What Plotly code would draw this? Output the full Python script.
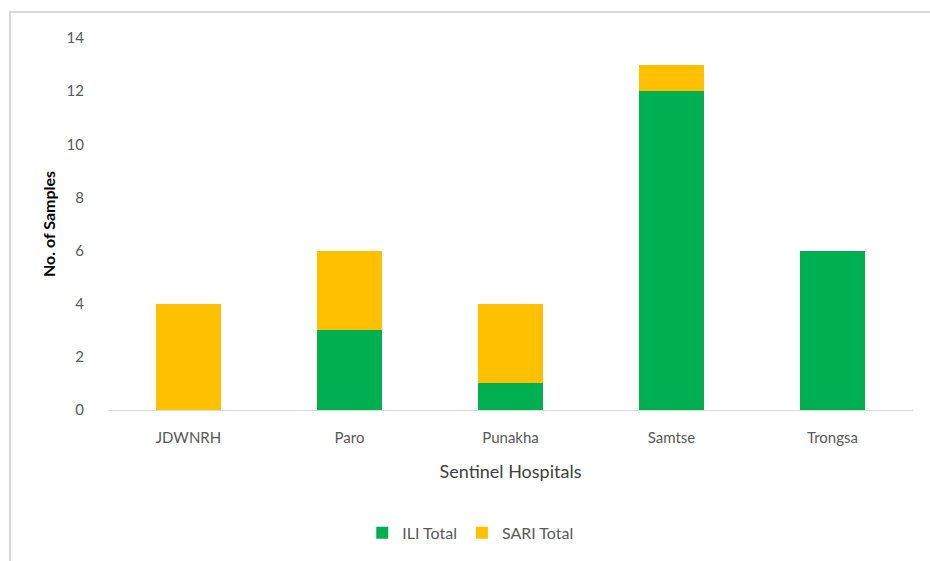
import plotly.graph_objects as go

hospitals = ["JDWNRH", "Paro", "Punakha", "Samtse", "Trongsa"]
ili_total = [0, 3, 1, 12, 6]
sari_total = [4, 3, 3, 1, 0]

FONT = "Lato, 'Open Sans', sans-serif"

fig = go.Figure()
fig.add_trace(go.Bar(name="ILI Total", x=hospitals, y=ili_total,
                     marker=dict(color="#00B050", line=dict(width=0)), width=0.4))
fig.add_trace(go.Bar(name="SARI Total", x=hospitals, y=sari_total,
                     marker=dict(color="#FFC000", line=dict(width=0)), width=0.4))

fig.update_layout(
    barmode="stack",
    width=930, height=561,
    margin=dict(l=108, r=17, t=38, b=150),
    paper_bgcolor="white", plot_bgcolor="white",
    font=dict(family=FONT, size=15, color="#595959"),
    showlegend=True,
    legend=dict(orientation="h", x=0.45, xanchor="center", y=-0.327, yanchor="middle",
                font=dict(size=16, color="#595959"), traceorder="normal",
                itemwidth=30),
    xaxis=dict(showgrid=False, showline=True, linecolor="#D9D9D9", linewidth=1,
               ticks="outside", ticklen=14, tickcolor="rgba(0,0,0,0)",
               tickfont=dict(size=15, color="#595959"),
               title=dict(text="Sentinel Hospitals", standoff=20,
                          font=dict(size=18, color="#404040"))),
    yaxis=dict(range=[0, 14], dtick=2, showgrid=False, zeroline=False, showline=False,
               ticks="outside", ticklen=20, tickcolor="rgba(0,0,0,0)",
               tickfont=dict(size=15, color="#595959"),
               title=dict(text="<b>No. of Samples</b>", standoff=6,
                          font=dict(size=16, color="#000000"))),
    shapes=[dict(type="rect", xref="paper", yref="paper",
                 x0=(10 - 108) / 805, x1=1.5, y0=-1.0, y1=(411 - 12) / 373,
                 line=dict(color="#D9D9D9", width=2), fillcolor="rgba(0,0,0,0)",
                 layer="below")],
)

fig.write_html("out.html", config={"displayModeBar": False},
               post_script="document.body.style.margin='0';document.body.style.overflow='hidden';")
